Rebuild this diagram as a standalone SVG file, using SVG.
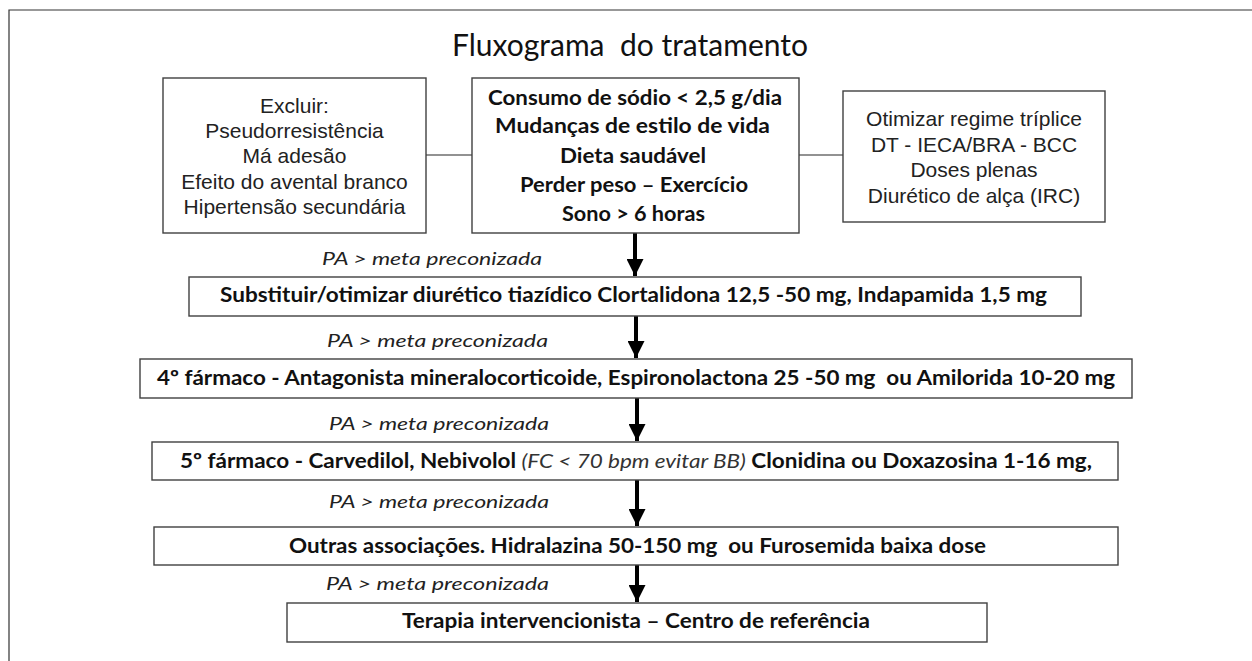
<svg xmlns="http://www.w3.org/2000/svg" width="1252" height="661" viewBox="0 0 1252 661">
<defs>
<style>
.bg{fill:#ffffff}
.frame{fill:none;stroke:#333;stroke-width:1.2}
.box{fill:#fff;stroke:#404040;stroke-width:1.4}
.link{fill:none;stroke:#6e6e6e;stroke-width:1.5}
.arrow{fill:none;stroke:#000;stroke-width:4}
.title{font-family:Lato,"Open Sans",sans-serif;font-size:31px;fill:#111}
.cb{font-family:Lato,"Open Sans",sans-serif;font-weight:bold;font-size:20px;fill:#111}
.ar{font-family:"Liberation Sans",Arial,sans-serif;font-size:21px;fill:#222;text-anchor:middle}
.pa{font-family:Lato,"Open Sans",sans-serif;font-style:italic;font-size:17px;fill:#222}
.it{font-style:italic;font-weight:normal;fill:#333}
</style>
<marker id="head" viewBox="0 0 17 17" refX="17" refY="8.5" markerWidth="17" markerHeight="17" markerUnits="userSpaceOnUse" orient="auto">
<path d="M0,0 L17,8.5 L0,17 Z" fill="#000"/>
</marker>
</defs>
<rect class="bg" x="0" y="0" width="1252" height="661"/>
<path class="frame" d="M9,661 V10 H1252"/>
<text class="title" x="452" y="56" textLength="356" lengthAdjust="spacingAndGlyphs" xml:space="preserve">Fluxograma  do tratamento</text>

<g id="connectors">
<line class="link" x1="426" y1="155" x2="472" y2="155"/>
<line class="link" x1="799" y1="155" x2="843" y2="155"/>
<line class="arrow" x1="635" y1="233" x2="635" y2="276" marker-end="url(#head)"/>
<line class="arrow" x1="636" y1="316" x2="636" y2="358" marker-end="url(#head)"/>
<line class="arrow" x1="637" y1="398" x2="637" y2="441" marker-end="url(#head)"/>
<line class="arrow" x1="637" y1="480" x2="637" y2="526" marker-end="url(#head)"/>
<line class="arrow" x1="637" y1="565" x2="637" y2="602" marker-end="url(#head)"/>
<text class="pa" x="322" y="265" textLength="220" lengthAdjust="spacingAndGlyphs">PA &gt; meta preconizada</text>
<text class="pa" x="327" y="347" textLength="221" lengthAdjust="spacingAndGlyphs">PA &gt; meta preconizada</text>
<text class="pa" x="329" y="430" textLength="220" lengthAdjust="spacingAndGlyphs">PA &gt; meta preconizada</text>
<text class="pa" x="329" y="508" textLength="220" lengthAdjust="spacingAndGlyphs">PA &gt; meta preconizada</text>
<text class="pa" x="326" y="590" textLength="223" lengthAdjust="spacingAndGlyphs">PA &gt; meta preconizada</text>
</g>

<g id="excluir">
<rect class="box" x="163" y="78" width="263" height="155"/>
<text class="ar" x="294.5" y="113">Excluir:</text>
<text class="ar" x="294.5" y="138">Pseudorresistência</text>
<text class="ar" x="294.5" y="163">Má adesão</text>
<text class="ar" x="294.5" y="189">Efeito do avental branco</text>
<text class="ar" x="294.5" y="214">Hipertensão secundária</text>
</g>

<g id="estilo-vida">
<rect class="box" x="472" y="78" width="327" height="155"/>
<text class="cb" x="488" y="105" textLength="294" lengthAdjust="spacingAndGlyphs">Consumo de sódio &lt; 2,5 g/dia</text>
<text class="cb" x="495" y="133" textLength="275" lengthAdjust="spacingAndGlyphs">Mudanças de estilo de vida</text>
<text class="cb" x="560" y="163" textLength="146" lengthAdjust="spacingAndGlyphs">Dieta saudável</text>
<text class="cb" x="520" y="192" textLength="228" lengthAdjust="spacingAndGlyphs">Perder peso – Exercício</text>
<text class="cb" x="562" y="221" textLength="143" lengthAdjust="spacingAndGlyphs">Sono &gt; 6 horas</text>
</g>

<g id="otimizar">
<rect class="box" x="843" y="91" width="262" height="131"/>
<text class="ar" x="974" y="126">Otimizar regime tríplice</text>
<text class="ar" x="974" y="152">DT - IECA/BRA - BCC</text>
<text class="ar" x="974" y="177">Doses plenas</text>
<text class="ar" x="974" y="203">Diurético de alça (IRC)</text>
</g>

<g id="tiazidico">
<rect class="box" x="189" y="277" width="892" height="39"/>
<text class="cb" x="220" y="302" textLength="827" lengthAdjust="spacingAndGlyphs">Substituir/otimizar diurético tiazídico Clortalidona 12,5 -50 mg, Indapamida 1,5 mg</text>
</g>

<g id="quarto">
<rect class="box" x="140" y="359" width="992" height="39"/>
<text class="cb" x="157" y="385" textLength="958" lengthAdjust="spacingAndGlyphs" xml:space="preserve">4º fármaco - Antagonista mineralocorticoide, Espironolactona 25 -50 mg  ou Amilorida 10-20 mg</text>
</g>

<g id="quinto">
<rect class="box" x="152" y="442" width="966" height="38"/>
<text class="cb" x="180" y="468" textLength="912" lengthAdjust="spacingAndGlyphs">5º fármaco - Carvedilol, Nebivolol <tspan class="it">(FC &lt; 70 bpm evitar BB)</tspan> Clonidina ou Doxazosina 1-16 mg,</text>
</g>

<g id="outras">
<rect class="box" x="154" y="527" width="964" height="38"/>
<text class="cb" x="289" y="553" textLength="697" lengthAdjust="spacingAndGlyphs" xml:space="preserve">Outras associações. Hidralazina 50-150 mg  ou Furosemida baixa dose</text>
</g>

<g id="intervencionista">
<rect class="box" x="287" y="603" width="700" height="39"/>
<text class="cb" x="402" y="628" textLength="468" lengthAdjust="spacingAndGlyphs">Terapia intervencionista – Centro de referência</text>
</g>
</svg>
